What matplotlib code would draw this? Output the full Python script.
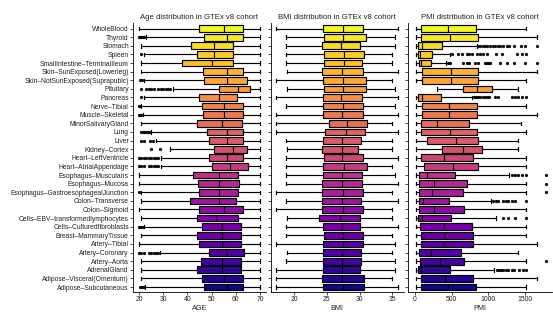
import numpy as np
import matplotlib.pyplot as plt

plt.rcParams['font.family'] = ['Liberation Sans', 'DejaVu Sans']

# --- tissues, top to bottom ---
tissues = [
    "WholeBlood", "Thyroid", "Stomach", "Spleen", "SmallIntestine–TerminalIleum",
    "Skin–SunExposed(Lowerleg)", "Skin–NotSunExposed(Suprapubic)", "Pituitary",
    "Pancreas", "Nerve–Tibial", "Muscle–Skeletal", "MinorSalivaryGland", "Lung",
    "Liver", "Kidney–Cortex", "Heart–LeftVentricle", "Heart–AtrialAppendage",
    "Esophagus–Muscularis", "Esophagus–Mucosa", "Esophagus–GastroesophagealJunction",
    "Colon–Transverse", "Colon–Sigmoid", "Cells–EBV–transformedlymphocytes",
    "Cells–Culturedfibroblasts", "Breast–MammaryTissue", "Artery–Tibial",
    "Artery–Coronary", "Artery–Aorta", "AdrenalGland", "Adipose–Visceral(Omentum)",
    "Adipose–Subcutaneous",
]

# --- AGE ---
age_lo = [20, 23, 21, 22, 21, 21, 22, 34, 22, 21, 21.5, 21, 25, 27, 33, 29, 29,
          20, 20, 21, 21, 20, 21, 22, 21, 20, 28.5, 21, 21, 21, 22.5]
age_q1 = [44.9, 47.0, 41.3, 44.1, 37.9, 46.3, 47.0, 53.2, 44.9, 46.2, 46.6, 44.1, 48.2,
          49.1, 51.1, 49.1, 50.0, 42.2, 44.3, 44.9, 41.1, 44.9, 44.1, 46.2, 44.1, 44.9,
          49.1, 45.6, 44.1, 46.2, 46.9]
age_med = [55.3, 56.2, 51.1, 51.1, 50.0, 56.2, 56.2, 61.0, 53.2, 55.3, 55.3, 54.2, 56.2,
           56.2, 59.0, 56.2, 57.6, 53.2, 53.2, 53.2, 53.2, 55.3, 51.8, 54.2, 54.2, 54.2,
           56.2, 54.2, 54.2, 55.3, 56.2]
age_q3 = [63.1, 63.1, 59.0, 59.0, 59.0, 63.1, 64.5, 65.9, 60.4, 63.1, 63.1, 62.4, 63.1,
          63.1, 64.5, 63.1, 65.2, 61.0, 61.5, 61.0, 60.1, 63.1, 61.0, 62.1, 62.1, 62.1,
          63.5, 62.1, 62.1, 63.1, 63.1]
age_hi = [70] * 31
age_out = [
    [], [20, 20.5, 21, 21.5, 22.2], [], [21], [], [], [20.5, 21.2],
    [21, 23, 24, 25, 26, 28, 29, 30, 31, 32, 33], [21], [20, 20.5], [20, 20.5, 21], [],
    [21, 21.5, 22, 22.5, 23, 23.5, 24], [21, 22, 24.4, 25.8], [25, 28.5],
    [20, 21, 22, 23, 24, 25, 26, 27, 28], [20, 21, 22, 24, 25, 26, 27, 28],
    [], [], [20], [], [], [], [20, 20.5, 21, 21.5], [], [],
    [20, 21, 22, 24, 25, 26, 27, 28], [], [], [], [20.5, 21, 21.5, 22],
]

# --- BMI ---
bmi_lo = [17.3, 18.8, 18.7, 18.8, 18.8, 18.9, 17.3, 18.9, 17.3, 18.8, 17.3, 17.3, 17.3,
          18.8, 18.9, 18.8, 18.8, 18.8, 18.8, 17.3, 18.7, 17.3, 18.9, 18.7, 18.7, 17.3,
          18.9, 18.8, 17.3, 17.3, 17.3]
bmi_q1 = [24.4, 24.6, 24.2, 24.6, 24.6, 24.3, 24.4, 24.6, 24.4, 24.4, 24.4, 25.4, 24.8,
          24.4, 24.3, 24.6, 24.4, 24.4, 24.3, 24.3, 24.2, 24.3, 23.8, 24.4, 24.6, 24.4,
          24.4, 24.4, 24.4, 24.3, 24.4]
bmi_med = [27.5, 27.5, 27.2, 27.7, 27.7, 27.4, 27.5, 27.5, 27.2, 27.5, 27.4, 28.1, 27.9,
           27.4, 27.3, 27.3, 27.7, 27.4, 27.3, 27.5, 27.4, 27.5, 27.0, 27.4, 27.5, 27.5,
           27.4, 27.4, 27.3, 27.4, 27.5]
bmi_q3 = [30.6, 31.0, 30.1, 30.7, 30.4, 30.6, 31.0, 31.0, 30.4, 30.6, 30.6, 31.2, 30.9,
          30.2, 29.7, 30.6, 31.1, 30.4, 30.4, 30.6, 30.2, 30.6, 30.0, 30.1, 30.6, 30.6,
          30.3, 30.3, 30.0, 30.7, 30.7]
bmi_hi = [35.9, 35.4, 35.4, 35.0, 35.0, 35.9, 35.0, 35.4, 35.9, 35.4, 35.9, 35.0, 35.9,
          34.9, 34.9, 35.9, 35.0, 35.4, 35.9, 35.0, 35.9, 35.0, 35.0, 35.9, 35.0, 35.4,
          35.0, 35.4, 35.4, 35.0, 35.9]

# --- PMI ---
pmi_lo = [15] * 31
pmi_q1 = [78, 78, 45, 45, 55, 91, 91, 659, 45, 91, 91, 78, 78, 159, 364, 78, 127,
          59, 59, 59, 59, 59, 45, 68, 78, 78, 55, 68, 45, 78, 78]
pmi_med = [446, 477, 91, 68, 78, 486, 486, 842, 91, 464, 464, 305, 477, 555, 659, 400, 523,
           168, 264, 228, 114, 264, 91, 400, 400, 400, 214, 341, 78, 409, 446]
pmi_q3 = [828, 855, 364, 236, 214, 864, 855, 1046, 350, 842, 842, 741, 842, 864, 918, 796,
          864, 546, 705, 659, 464, 673, 486, 773, 796, 787, 623, 673, 477, 787, 828]
pmi_hi = [1510, 1660, 842, 477, 430, 1660, 1510, 1410, 780, 1510, 1660, 1442, 1510, 1410,
          1410, 1510, 1510, 1280, 1510, 1510, 1040, 1510, 1100, 1510, 1510, 1660, 1410,
          1510, 1085, 1660, 1510]
pmi_lo[7] = 305
pmi_out = [
    [], [],
    [864, 887, 923, 955, 987, 1023, 1060, 1091, 1128, 1160, 1205, 1251, 1287, 1355, 1446,
     1501, 1660],
    [500, 591, 637, 705, 737, 773, 850, 887, 932, 987, 1105, 1182, 1396, 1455, 1510],
    [455, 477, 659, 705, 741, 818, 864, 955, 977, 1000, 1023, 1160, 1251, 1355, 1501, 1660],
    [], [], [],
    [800, 828, 864, 887, 923, 955, 987, 1014, 1091, 1137, 1319, 1364, 1410, 1455, 1510],
    [], [], [], [], [], [], [], [],
    [1319, 1364, 1410, 1455, 1510, 1783], [1783], [1783],
    [1060, 1105, 1137, 1205, 1241, 1273, 1319, 1364, 1510], [],
    [1205, 1273, 1364, 1510], [], [], [], [], [1783],
    [1114, 1141, 1173, 1205, 1237, 1273, 1319, 1355, 1423, 1469, 1510], [], [],
]

n = len(tissues)
pos = np.arange(n)[::-1]
colors = plt.cm.plasma(np.linspace(0, 1, n))[::-1]


def draw(ax, lo, q1, med, q3, hi, out, xlim, xticks, title, xlabel):
    stats = []
    for i in range(n):
        stats.append(dict(med=med[i], q1=q1[i], q3=q3[i], whislo=lo[i], whishi=hi[i],
                          fliers=out[i] if out is not None else []))
    bp = ax.bxp(stats, positions=pos, widths=0.78, orientation='horizontal',
                patch_artist=True, capwidths=0.4,
                boxprops=dict(edgecolor='black', linewidth=0.85),
                medianprops=dict(color='black', linewidth=0.85),
                whiskerprops=dict(color='black', linewidth=0.85),
                capprops=dict(color='black', linewidth=0.85),
                flierprops=dict(marker='o', markersize=2.0, markerfacecolor='black',
                                markeredgecolor='black', markeredgewidth=0.3,
                                linestyle='none'))
    for patch, c in zip(bp['boxes'], colors):
        patch.set_facecolor(c)
    ax.set_xlim(*xlim)
    ax.set_ylim(-0.6, n - 0.4)
    ax.set_xticks(xticks)
    ax.set_title(title, fontsize=5.6, pad=3.5, color='#222222')
    ax.set_xlabel(xlabel, fontsize=5.2, labelpad=1, color='#222222')
    for s in ['top', 'right']:
        ax.spines[s].set_visible(False)
    for s in ['left', 'bottom']:
        ax.spines[s].set_linewidth(0.6)
    ax.tick_params(axis='both', length=2, width=0.5, pad=1, labelsize=4.9,
                   labelcolor='#222222')


fig = plt.figure(figsize=(5.53, 3.12), dpi=100)
ax1 = fig.add_axes([133 / 553, 0.0635, 133 / 553, 0.8615])
ax2 = fig.add_axes([270.5 / 553, 0.0635, 133.5 / 553, 0.8615])
ax3 = fig.add_axes([408 / 553, 0.0635, 144 / 553, 0.8615])

draw(ax1, age_lo, age_q1, age_med, age_q3, age_hi, age_out, (17.5, 72.5),
     [20, 30, 40, 50, 60, 70], "Age distribution in GTEx v8 cohort", "AGE")
draw(ax2, bmi_lo, bmi_q1, bmi_med, bmi_q3, bmi_hi, None, (16.4, 36.8),
     [20, 25, 30, 35], "BMI distribution in GTEx v8 cohort", "BMI")
draw(ax3, pmi_lo, pmi_q1, pmi_med, pmi_q3, pmi_hi, pmi_out, (-95, 1870),
     [0, 500, 1000, 1500], "PMI distribution in GTEx v8 cohort", "PMI")

ax1.set_yticks(pos)
ax1.set_yticklabels(tissues)
ax2.set_yticks(pos)
ax2.set_yticklabels([])
ax3.set_yticks(pos)
ax3.set_yticklabels([])

fig.savefig("out.png", dpi=100)
